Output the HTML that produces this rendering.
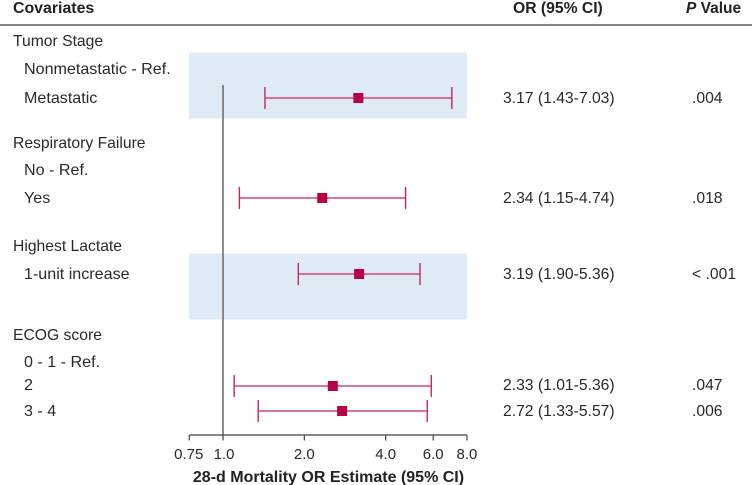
<!DOCTYPE html>
<html><head><meta charset="utf-8"><title>Forest plot</title>
<style>
html,body{margin:0;padding:0;background:#fff}
svg{display:block}
text{font-family:"Liberation Sans",sans-serif;font-size:15.7px;fill:#2a2a2a}
.b{font-weight:bold;fill:#222}
.s{font-size:16.1px}
</style></head>
<body>
<svg id="chart" width="752" height="485" viewBox="0 0 752 485" xmlns="http://www.w3.org/2000/svg">
<rect x="0" y="24" width="752" height="2" fill="#858585"/>
<text class="b" x="13" y="13" style="font-size:15.9px">Covariates</text>
<text class="b" x="513" y="13">OR (95% CI)</text>
<text class="b" x="686" y="13" style="font-size:15.5px"><tspan font-style="italic">P</tspan> Value</text>
<rect x="189" y="52.5" width="278" height="66" fill="#deebf7"/>
<rect x="189" y="253.5" width="278" height="66" fill="#deebf7"/>
<text x="13" y="46">Tumor Stage</text>
<text class="s" x="24" y="74">Nonmetastatic - Ref.</text>
<text x="13" y="148">Respiratory Failure</text>
<text class="s" x="24" y="175">No - Ref.</text>
<text x="13" y="251">Highest Lactate</text>
<text x="13" y="340">ECOG score</text>
<text class="s" x="24" y="367">0 - 1 - Ref.</text>
<g id="axis"></g>
<g id="rows"></g>
<text class="b" x="328.5" y="482" text-anchor="middle" style="font-size:16px">28-d Mortality OR Estimate (95% CI)</text>
</svg>
<script>
const labels = ["Metastatic", "Yes", "1-unit increase", "2", "3 - 4"];
const estimates = [3.17, 2.33, 3.19, 2.55, 2.76];
const lows = [1.43, 1.15, 1.90, 1.10, 1.35];
const highs = [7.03, 4.74, 5.36, 5.90, 5.70];
const orText = ["3.17 (1.43-7.03)", "2.34 (1.15-4.74)", "3.19 (1.90-5.36)", "2.33 (1.01-5.36)", "2.72 (1.33-5.57)"];
const pText = [".004", ".018", "< .001", ".047", ".006"];
const tickValues = [0.75, 1, 2, 4, 6, 8];
const tickLabels = ["0.75", "1.0", "2.0", "4.0", "6.0", "8.0"];

const NS = "http://www.w3.org/2000/svg";
const rowY = [98, 198, 274, 386, 411];
const textY = [103, 203, 279, 390, 416];
const x = v => 223 + Math.log2(v) * 81.33;
function add(parent, tag, attrs, text) {
  const el = document.createElementNS(NS, tag);
  for (const k in attrs) el.setAttribute(k, attrs[k]);
  if (text !== undefined) el.textContent = text;
  parent.appendChild(el);
  return el;
}
const axis = document.getElementById("axis");
const rows = document.getElementById("rows");

const ref = add(axis, "line", {x1: x(1), x2: x(1), y1: 85, y2: 435, stroke: "#6f6f6f", "stroke-width": 1.6});


const base = add(axis, "line", {x1: x(tickValues[0]), x2: x(tickValues[tickValues.length - 1]), y1: 435, y2: 435, stroke: "#444", "stroke-width": 1.2});


tickValues.forEach((v, i) => {
  const t = add(axis, "line", {x1: x(v), x2: x(v), y1: 435, y2: 440.5, stroke: "#444", "stroke-width": 1.2});
  
  
  const l = add(axis, "text", {x: x(v) + (i === 0 ? -0.5 : i === 1 ? 1 : 0), y: 459, "text-anchor": "middle", style: "font-size:15px"}, tickLabels[i]);
  
  
});
const color = "#c8255f";
labels.forEach((name, i) => {
  const y = rowY[i];
  const lab = add(rows, "text", {x: 24, y: textY[i], class: "s"}, name);
  
  
  const ci = add(rows, "line", {x1: x(lows[i]), x2: x(highs[i]), y1: y, y2: y, stroke: color, "stroke-width": 1.3});
  
  
  const c1 = add(rows, "line", {x1: x(lows[i]), x2: x(lows[i]), y1: y - 11, y2: y + 11, stroke: color, "stroke-width": 1.4});
  
  
  const c2 = add(rows, "line", {x1: x(highs[i]), x2: x(highs[i]), y1: y - 11, y2: y + 11, stroke: color, "stroke-width": 1.4});
  
  
  const m = add(rows, "rect", {x: x(estimates[i]) - 5, y: y - 5, width: 10, height: 10, fill: "#b90048"});
  
  
  const o = add(rows, "text", {x: 503, y: textY[i]}, orText[i]);
  
  
  const p = add(rows, "text", {x: 692, y: textY[i]}, pText[i]);
  
  
});
</script>
</body></html>
